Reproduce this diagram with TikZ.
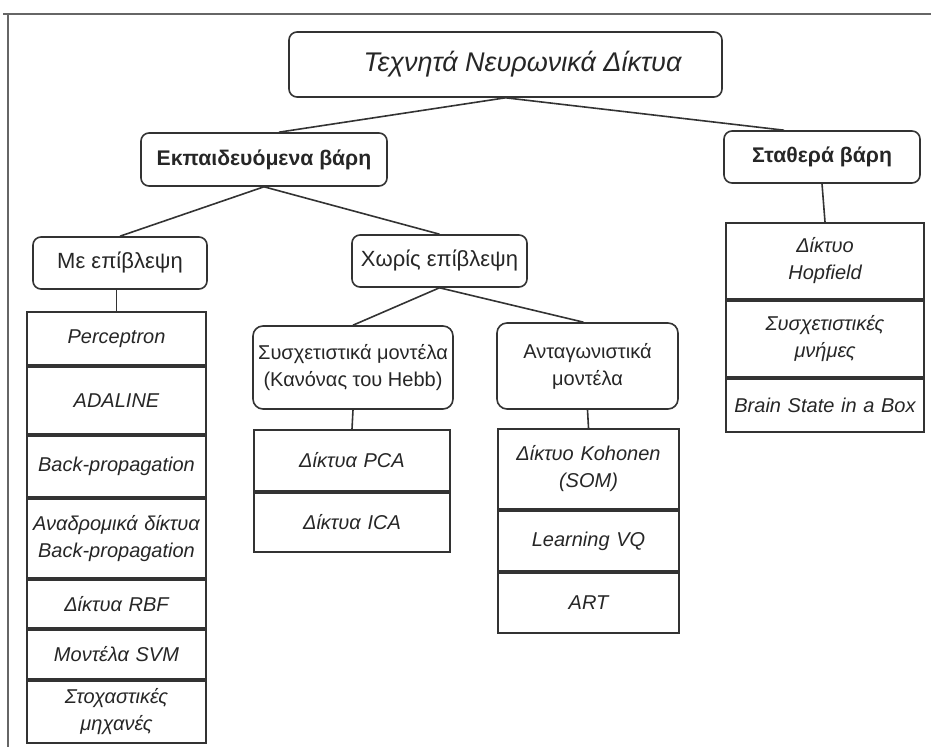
\documentclass[tikz,border=0pt]{standalone}
\usepackage{fontspec}
\setsansfont{Liberation Sans}
\usepackage{xcolor}
\usetikzlibrary{positioning,shapes}

\definecolor{inkgray}{gray}{0.2}
\definecolor{framegray}{gray}{0.4}

\begin{document}
\begin{tikzpicture}[x=0.5pt,y=-0.5pt,node distance=0pt,
    every node/.style={text=black!85},
    group node/.style={draw=inkgray,rounded corners=4pt,line width=0.8pt,align=center,inner sep=0pt,font=\sffamily\fontsize{11}{13}\selectfont},
    main node/.style={group node,font=\sffamily\itshape\fontsize{13.5}{16}\selectfont},
    weight node/.style={group node,font=\sffamily\bfseries\fontsize{10.6}{13}\selectfont},
    family node/.style={group node,rounded corners=5pt,font=\sffamily\fontsize{10}{13.5}\selectfont},
    model node/.style={draw=inkgray,line width=1pt,align=center,inner xsep=2pt,inner ysep=0pt,font=\sffamily\itshape\fontsize{10}{13.5}\selectfont},
    link/.style={draw=inkgray,line width=0.8pt}]

                \useasboundingbox (0,0) rectangle (931,747);

                % frame of the page
                \draw[framegray,line width=1pt] (3,14) -- (931,14);
                \draw[framegray,line width=1pt] (8,14) -- (8,747);

                \node[main node, minimum width=216.5pt, minimum height=32.5pt] (ann) at (505.5,64.5) {\hspace*{17pt}Τεχνητά Νευρωνικά Δίκτυα};
                \node[weight node, minimum width=123pt, minimum height=26.5pt] (trained) at (264,159.5) {Εκπαιδευόμενα βάρη};
                \node[weight node, minimum width=98pt, minimum height=26pt] (fixed) at (822,157) {Σταθερά βάρη};
                \node[group node, minimum width=87pt, minimum height=26pt] (superv) at (120,263) {Με επίβλεψη};
                \node[group node, minimum width=87.5pt, minimum height=26pt] (unsup) at (439.5,261) {Χωρίς επίβλεψη};
                \node[family node, minimum width=100pt, minimum height=41.5pt] (hebb) at (353,367.5) {Συσχετιστικά μοντέλα\\(Κανόνας του Hebb)};
                \node[family node, minimum width=90.5pt, minimum height=43pt] (compet) at (587.5,366) {Ανταγωνιστικά\\μοντέλα};

                % supervised models
                \node[model node, text width=85.5pt, minimum height=26.5pt, anchor=north] (s0) at (116.5,311) {Perceptron};
                \foreach \curr/\rowh/\itemtext [
                    evaluate = \curr as \prev using {int(\curr-1)}
                ] in {1/33.5/ADALINE, 2/30.5/Back-propagation, 3/39.5/{Αναδρομικά δίκτυα\\Back-propagation}, 4/24/Δίκτυα RBF, 5/24.5/Μοντέλα SVM, 6/31/{Στοχαστικές\\μηχανές}}{
                    \node[model node, text width=85.5pt, minimum height=\rowh pt, below=of s\prev] (s\curr) {\itemtext};
                }

                % hebbian models
                \node[model node, text width=94pt, minimum height=30.5pt, anchor=north] (pca) at (352,429) {Δίκτυα PCA};
                \node[model node, text width=94pt, minimum height=29.5pt, below=of pca] (ica) {Δίκτυα ICA};

                % competitive models
                \node[model node, text width=86.5pt, minimum height=40pt, anchor=north] (koh) at (588.5,428) {Δίκτυο Kohonen\\(SOM)};
                \node[model node, text width=86.5pt, minimum height=30pt, below=of koh] (lvq) {Learning VQ};
                \node[model node, text width=86.5pt, minimum height=30pt, below=of lvq] (art) {ART};

                % fixed weight models
                \node[model node, text width=95pt, minimum height=38pt, anchor=north] (hop) at (825,222) {Δίκτυο\\Hopfield};
                \node[model node, text width=95pt, minimum height=38pt, below=of hop] (assoc) {Συσχετιστικές\\μνήμες};
                \node[model node, text width=95pt, minimum height=26.5pt, below=of assoc] (bsb) {Brain State in a Box};

                \path[link]
                    (ann.south) edge ([xshift=7.5pt]trained.north)
                    (ann.south) edge ([xshift=-19pt]fixed.north)
                    (trained.south) edge (superv.north)
                    (trained.south) edge (unsup.north)
                    (unsup.south) edge (hebb.north)
                    (unsup.south) edge ([xshift=-2pt]compet.north)
                    (fixed.south) edge (hop.north)
                    (hebb.south) edge (pca.north)
                    (compet.south) edge (koh.north)
                    (superv.south -| s0.north) edge (s0.north)
                ;

            \end{tikzpicture}
\end{document}
